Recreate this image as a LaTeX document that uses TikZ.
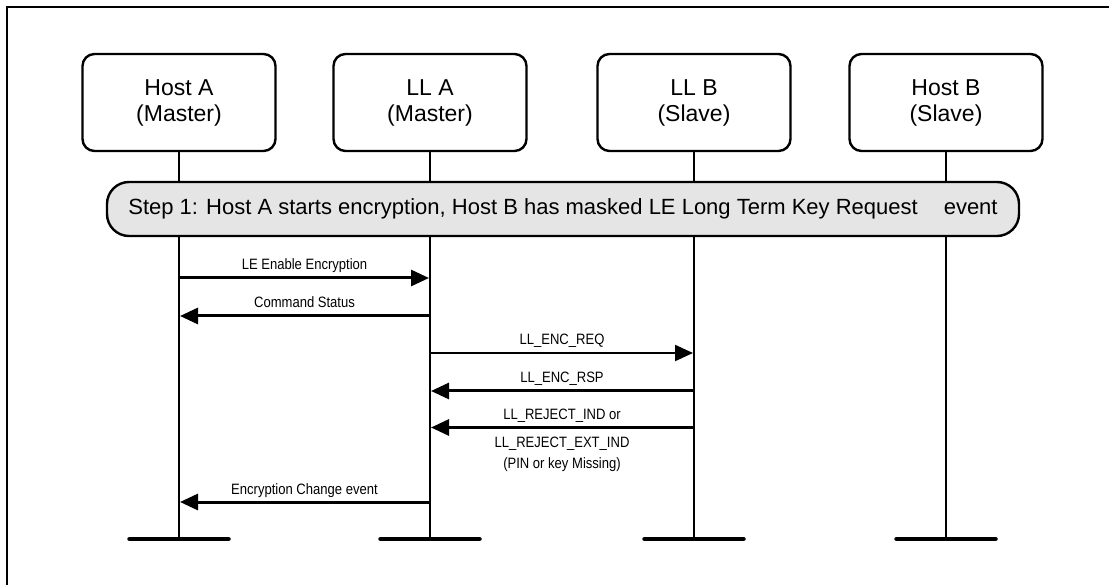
\documentclass[tikz,border=0pt]{standalone}
\usepackage{fontspec}
\setmainfont{Liberation Sans}
\newfontfamily\narrowsans[FakeStretch=0.87]{Liberation Sans}
\usetikzlibrary{arrows.meta}

\begin{document}
\begin{tikzpicture}[x=1pt,y=-1pt,
    entity/.style={draw,line width=2.4pt,rounded corners=12pt,minimum width=193pt,
      minimum height=97pt,align=center,inner sep=0pt,font=\fontsize{23}{26}\selectfont},
    lifeline/.style={line width=2.2pt},
    endbar/.style={line width=4.5pt,line cap=round},
    stepbar/.style={draw,line width=2.4pt,fill=black!10,rounded corners=22pt,
      minimum width=912pt,minimum height=54pt,inner sep=0pt,font=\fontsize{22}{26}\selectfont},
    msg/.style={line width=3pt,-{Triangle[length=18pt,width=16pt]},shorten >=1pt},
    smalltext/.style={font=\narrowsans\fontsize{15}{21}\selectfont,inner sep=0pt},
    msglabel/.style={smalltext,anchor=base,yshift=8pt}]
  \useasboundingbox (0,0) rectangle (1109,585);
  \clip (0,0) rectangle (1109,585);
  \draw[line width=2pt] (7,7) rectangle (1130,610);

  % entities
  \node[entity] (hostA) at (179,102.5) {Host A\\(Master)};
  \node[entity] (llA) at (430,102.5) {LL A\\(Master)};
  \node[entity] (llB) at (694,102.5) {LL B\\(Slave)};
  \node[entity] (hostB) at (946,102.5) {Host B\\(Slave)};

  \coordinate (bot) at (0,539);
  \foreach \e in {hostA,llA,llB,hostB} {
    \draw[lifeline] (\e.south) -- (\e |- bot);
    \draw[endbar] ([xshift=-49.5pt]\e |- bot) -- ([xshift=49.5pt]\e |- bot);
  }

  \node[stepbar] (step) at (563,209)
    {Step 1: Host A starts encryption, Host B has masked LE Long Term Key Request\hspace{26pt}event};

  % message rows
  \coordinate (m1) at (0,278);
  \coordinate (m2) at (0,316);
  \coordinate (m3) at (0,353);
  \coordinate (m4) at (0,391);
  \coordinate (m5) at (0,427.5);
  \coordinate (m6) at (0,502);

  \draw[msg] (hostA |- m1) -- node[msglabel] {LE Enable Encryption} (llA |- m1);
  \draw[msg] (llA |- m2) -- node[msglabel] {Command Status} (hostA |- m2);
  \draw[msg,line width=2.2pt] (llA |- m3) -- node[msglabel] {LL\_ENC\_REQ} (llB |- m3);
  \draw[msg] (llB |- m4) -- node[msglabel] {LL\_ENC\_RSP} (llA |- m4);
  \draw[msg] (llB |- m5) -- node[msglabel] (rej) {LL\_REJECT\_IND or} (llA |- m5);
  \node[smalltext,anchor=north,align=center] (rejx) at ([yshift=-9.5pt]rej.base |- m5)
    {LL\_REJECT\_EXT\_IND\\(PIN or key Missing)};
  \draw[msg] (llA |- m6) -- node[msglabel] {Encryption Change event} (hostA |- m6);
\end{tikzpicture}
\end{document}
